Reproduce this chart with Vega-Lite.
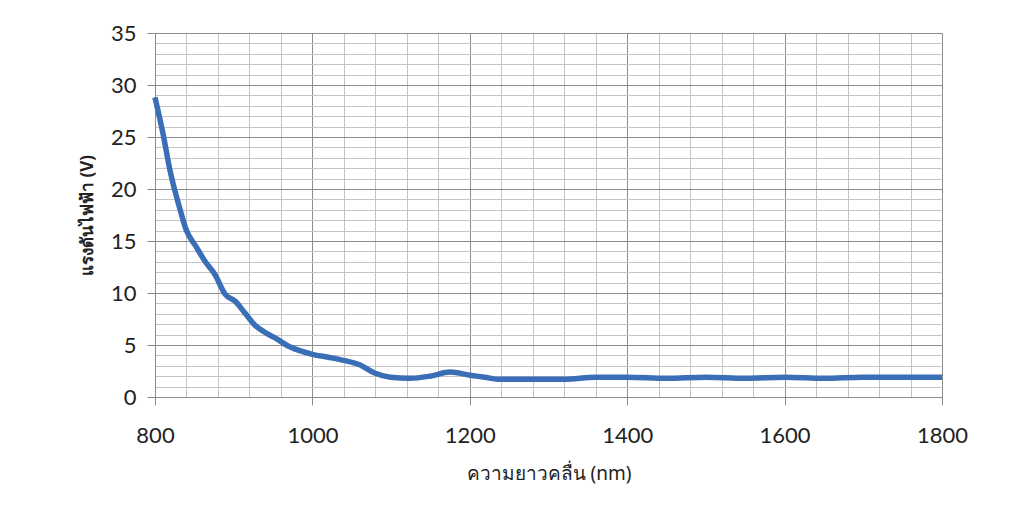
{
  "$schema": "https://vega.github.io/schema/vega-lite/v6.json",
  "width": 787,
  "height": 364,
  "autosize": {"type": "none"},
  "padding": {"left": 155, "top": 33, "right": 67, "bottom": 108},
  "background": "white",
  "config": {"view": {"stroke": "#9a9a9a", "strokeWidth": 1}, "font": "Lato"},
  "data": {"values": [
    {"wl": 800, "v": 28.8},
    {"wl": 810, "v": 25.4},
    {"wl": 819, "v": 21.8},
    {"wl": 832, "v": 18.0},
    {"wl": 840, "v": 16.0},
    {"wl": 851, "v": 14.6},
    {"wl": 864, "v": 13.0},
    {"wl": 876, "v": 11.8},
    {"wl": 889, "v": 9.9},
    {"wl": 902, "v": 9.2},
    {"wl": 914, "v": 8.1},
    {"wl": 927, "v": 6.9},
    {"wl": 940, "v": 6.2},
    {"wl": 952, "v": 5.7},
    {"wl": 972, "v": 4.8},
    {"wl": 1000, "v": 4.1},
    {"wl": 1022, "v": 3.8},
    {"wl": 1041, "v": 3.5},
    {"wl": 1060, "v": 3.1},
    {"wl": 1079, "v": 2.3},
    {"wl": 1099, "v": 1.9},
    {"wl": 1124, "v": 1.8},
    {"wl": 1149, "v": 2.0},
    {"wl": 1175, "v": 2.4},
    {"wl": 1200, "v": 2.1},
    {"wl": 1219, "v": 1.9},
    {"wl": 1238, "v": 1.7},
    {"wl": 1280, "v": 1.7},
    {"wl": 1320, "v": 1.7},
    {"wl": 1360, "v": 1.9},
    {"wl": 1400, "v": 1.9},
    {"wl": 1450, "v": 1.8},
    {"wl": 1500, "v": 1.9},
    {"wl": 1550, "v": 1.8},
    {"wl": 1600, "v": 1.9},
    {"wl": 1650, "v": 1.8},
    {"wl": 1700, "v": 1.9},
    {"wl": 1750, "v": 1.9},
    {"wl": 1800, "v": 1.9}
  ]},
  "mark": {"type": "line", "color": "#3a6fb7", "strokeWidth": 5.5, "interpolate": "monotone"},
  "encoding": {
    "x": {
      "field": "wl", "type": "quantitative",
      "scale": {"domain": [800, 1800], "nice": false, "zero": false},
      "axis": {
        "values": [800,840,880,920,960,1000,1040,1080,1120,1160,1200,1240,1280,1320,1360,1400,1440,1480,1520,1560,1600,1640,1680,1720,1760,1800],
        "format": "d",
        "labelExpr": "datum.value % 200 === 0 ? datum.label : ''",
        "labelFlush": false,
        "labelOverlap": false,
        "grid": true,
        "gridColor": {"condition": {"test": "datum.value % 200 === 0", "value": "#8c8c8c"}, "value": "#c4c4c4"},
        "gridWidth": 1,
        "tickColor": {"condition": {"test": "datum.value % 200 === 0", "value": "#8c8c8c"}, "value": "transparent"},
        "tickSize": 8,
        "domainColor": "#8c8c8c",
        "labelFontSize": 22,
        "labelColor": "#222",
        "labelPadding": 20,
        "labelFont": "Lato",
        "title": "ความยาวคลื่น (nm)",
        "titleFont": "Noto Sans",
        "titleFontSize": 19,
        "titleFontWeight": "normal",
        "titleColor": "#222",
        "titlePadding": 18
      }
    },
    "y": {
      "field": "v", "type": "quantitative",
      "scale": {"domain": [0, 35], "nice": false},
      "axis": {
        "values": [0,1,2,3,4,5,6,7,8,9,10,11,12,13,14,15,16,17,18,19,20,21,22,23,24,25,26,27,28,29,30,31,32,33,34,35],
        "labelExpr": "datum.value % 5 === 0 ? datum.label : ''",
        "labelFlush": false,
        "labelOverlap": false,
        "grid": true,
        "gridColor": {"condition": {"test": "datum.value % 5 === 0", "value": "#8c8c8c"}, "value": "#c4c4c4"},
        "gridWidth": 1,
        "tickColor": {"condition": {"test": "datum.value % 5 === 0", "value": "#8c8c8c"}, "value": "transparent"},
        "tickSize": 8,
        "domainColor": "#8c8c8c",
        "labelFontSize": 22,
        "labelColor": "#222",
        "labelPadding": 11,
        "labelFont": "Lato",
        "title": "แรงดันไฟฟ้า (V)",
        "titleFont": "Noto Sans",
        "titleFontSize": 17,
        "titleFontWeight": "bold",
        "titleColor": "#222",
        "titlePadding": 14
      }
    }
  }
}
